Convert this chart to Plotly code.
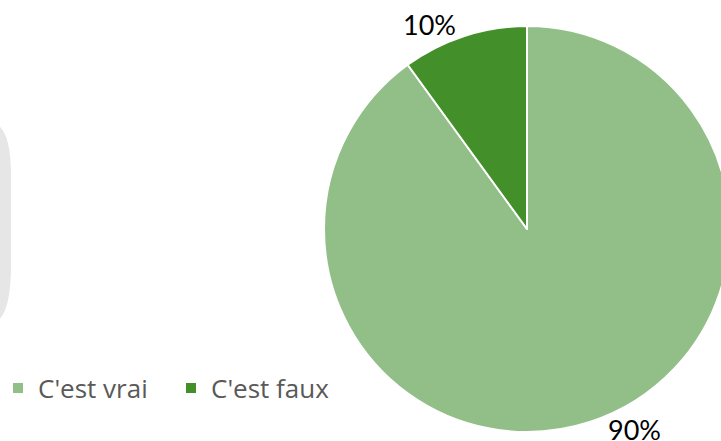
import math
import plotly.graph_objects as go

categories = ["C'est vrai", "C'est faux"]
values = [90, 10]
colors = ["#91BF87", "#438F29"]

# figure is slightly wider than the window so the pie is clipped on the right, as in the reference
W, H = 732, 441
CX, CY, R = 527, 229, 203          # pie centre and radius in pixels
LABEL_GAP, LABEL_SHIFT = 10, 8      # outside-label placement style
LABEL_DX, LABEL_DY = 5, 2           # small global nudge of the labels (px)

def px(x):
    return x / W

def py(y):
    return 1 - y / H

fig = go.Figure()
fig.add_trace(go.Pie(
    labels=categories,
    values=values,
    sort=False,
    direction="clockwise",
    rotation=0,
    marker=dict(colors=colors, line=dict(color="white", width=2)),
    textinfo="none",
    automargin=False,
    domain=dict(x=[px(CX - R), px(CX + R)], y=[py(CY + R), py(CY - R)]),
    hoverinfo="label+percent",
))

# percentage labels outside each slice, positioned from the slice mid-angles
total = sum(values)
annotations = []
cum = 0
for v in values:
    mid = math.radians((cum + v / 2) / total * 360)  # clockwise from 12 o'clock
    cum += v
    s, c = math.sin(mid), math.cos(mid)
    lx = CX + (R + LABEL_GAP) * s
    ly = CY - (R + LABEL_GAP) * c
    annotations.append(dict(
        x=px(lx), y=py(ly), xref="paper", yref="paper",
        text=f"{round(v / total * 100)}%", showarrow=False,
        xanchor="left" if s > 0 else "right", yanchor="middle",
        xshift=(LABEL_SHIFT if s > 0 else -LABEL_SHIFT) + LABEL_DX,
        yshift=LABEL_DY,
        font=dict(family="Lato", size=27, color="#000000"),
    ))

# decorative rounded panel partly visible on the left edge
path = (
    f"M {px(-30)},{py(122)} L {px(-10)},{py(122)} "
    f"Q {px(11)},{py(124)} {px(11)},{py(175)} "
    f"L {px(11)},{py(265)} "
    f"Q {px(11)},{py(322)} {px(-10)},{py(324)} "
    f"L {px(-30)},{py(324)} Z"
)

fig.update_layout(
    width=W, height=H,
    margin=dict(l=0, r=0, t=0, b=0, autoexpand=False),
    paper_bgcolor="white",
    plot_bgcolor="white",
    showlegend=True,
    legend=dict(
        orientation="h",
        x=px(-2), xanchor="left",
        y=py(388), yanchor="middle",
        font=dict(family="Open Sans", size=26, color="#595959"),
        entrywidth=128, entrywidthmode="pixels",
        traceorder="normal",
        bgcolor="rgba(0,0,0,0)",
    ),
    annotations=annotations,
    shapes=[dict(type="path", xref="paper", yref="paper", path=path,
                 fillcolor="#E6E6E6", line=dict(width=0), layer="below")],
)

fig.write_html(
    "out.html",
    config={"displayModeBar": False},
    post_script="document.body.style.margin='0';document.body.style.overflow='hidden';"
                "document.documentElement.style.overflow='hidden';",
)
